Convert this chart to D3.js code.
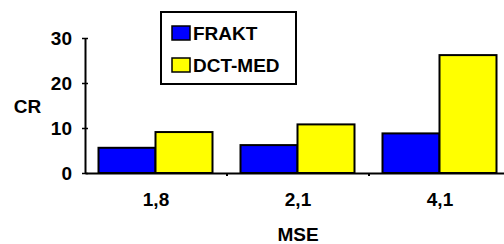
<!DOCTYPE html>
<html>
<head>
<meta charset="utf-8">
<script src="https://cdn.jsdelivr.net/npm/d3@7"></script>
<style>
  body { margin: 0; background: #fff; }
  text { font-family: Arial, "Liberation Sans", sans-serif; font-weight: bold; }
</style>
</head>
<body>
<svg width="504" height="244"></svg>
<script>
    // data
    categories = ["1,8", "2,1", "4,1"];
    series = ["FRAKT", "DCT-MED"];
    frakt = [5.6, 6.2, 8.8];
    dctmed = [9.1, 10.8, 26.2];
    colors = ["#0000ff", "#ffff00"];
    yticks = [0, 10, 20, 30];

    svg = d3.select("svg");

    xs = d3.scaleBand().domain(categories).range([85, 511]);
    ys = d3.scaleLinear().domain([0, 30]).range([173, 38]);
    inner = d3.scaleBand().domain(series).range([0, 114]);

    //draw the bars
    rows = categories.map(function(c, i){ return {c: c, v: [frakt[i], dctmed[i]]}; });
    svg.append("g").selectAll("g").data(rows).enter().append("g")
    .attr("transform", function(d){ return "translate(" + (xs(d.c) + 13.5) + ",0)"; })
    .selectAll("rect").data(function(d){ return d.v.map(function(v, j){ return {s: series[j], v: v, j: j}; }); })
    .enter().append("rect")
    .attr("x", function(d){ return inner(d.s); })
    .attr("y", function(d){ return ys(d.v); })
    .attr("width", inner.bandwidth())
    .attr("height", function(d){ return ys(0) - ys(d.v); })
    .attr("fill", function(d){ return colors[d.j]; })
    .attr("stroke", "#000")
    .attr("stroke-width", 2);

    //draw the y axis
    ya = svg.append("g")
    .attr("transform", "translate(85,0)")
    .attr("font-size", 19)
    .call(d3.axisLeft(ys).tickValues(yticks).tickSizeInner(3).tickSizeOuter(0).tickPadding(10));
    ya.select(".domain").attr("stroke-width", 2);
    ya.selectAll(".tick line").attr("x2", 3).attr("x1", -3).attr("stroke-width", 1.5);
    ya.selectAll("text").attr("font-size", 19).attr("fill", "#000");

    //draw the x axis
    xa = svg.append("g")
    .attr("transform", "translate(0,173)")
    .call(d3.axisBottom(xs).tickSize(0).tickPadding(20));
    xa.select(".domain").attr("stroke-width", 2);
    xa.selectAll("text").attr("font-size", 19).attr("fill", "#000");
    // boundary ticks between categories
    xa.selectAll("line.bt").data(categories.slice(1)).enter().append("line")
    .attr("class", "bt")
    .attr("x1", function(d){ return xs(d); })
    .attr("x2", function(d){ return xs(d); })
    .attr("y1", 0).attr("y2", 3)
    .attr("stroke", "#000").attr("stroke-width", 2);

    //axis titles
    svg.append("text").attr("x", 27.5).attr("y", 113).attr("text-anchor", "middle")
    .attr("font-size", 19).text("CR");
    svg.append("text").attr("x", 298).attr("y", 241).attr("text-anchor", "middle")
    .attr("font-size", 19).text("MSE");

    //legend
    lg = svg.append("g").attr("transform", "translate(161,12)");
    lg.append("rect").attr("width", 135).attr("height", 72)
    .attr("fill", "#fff").attr("stroke", "#000").attr("stroke-width", 2);
    li = lg.selectAll("g").data(series).enter().append("g")
    .attr("transform", function(d, i){ return "translate(11," + (14 + i * 32) + ")"; });
    li.append("rect").attr("width", 18).attr("height", 14)
    .attr("fill", function(d, i){ return colors[i]; })
    .attr("stroke", "#000").attr("stroke-width", 1.5);
    li.append("text").attr("x", 21).attr("y", 13.5).attr("font-size", 19).text(function(d){ return d; });
</script>
</body>
</html>
